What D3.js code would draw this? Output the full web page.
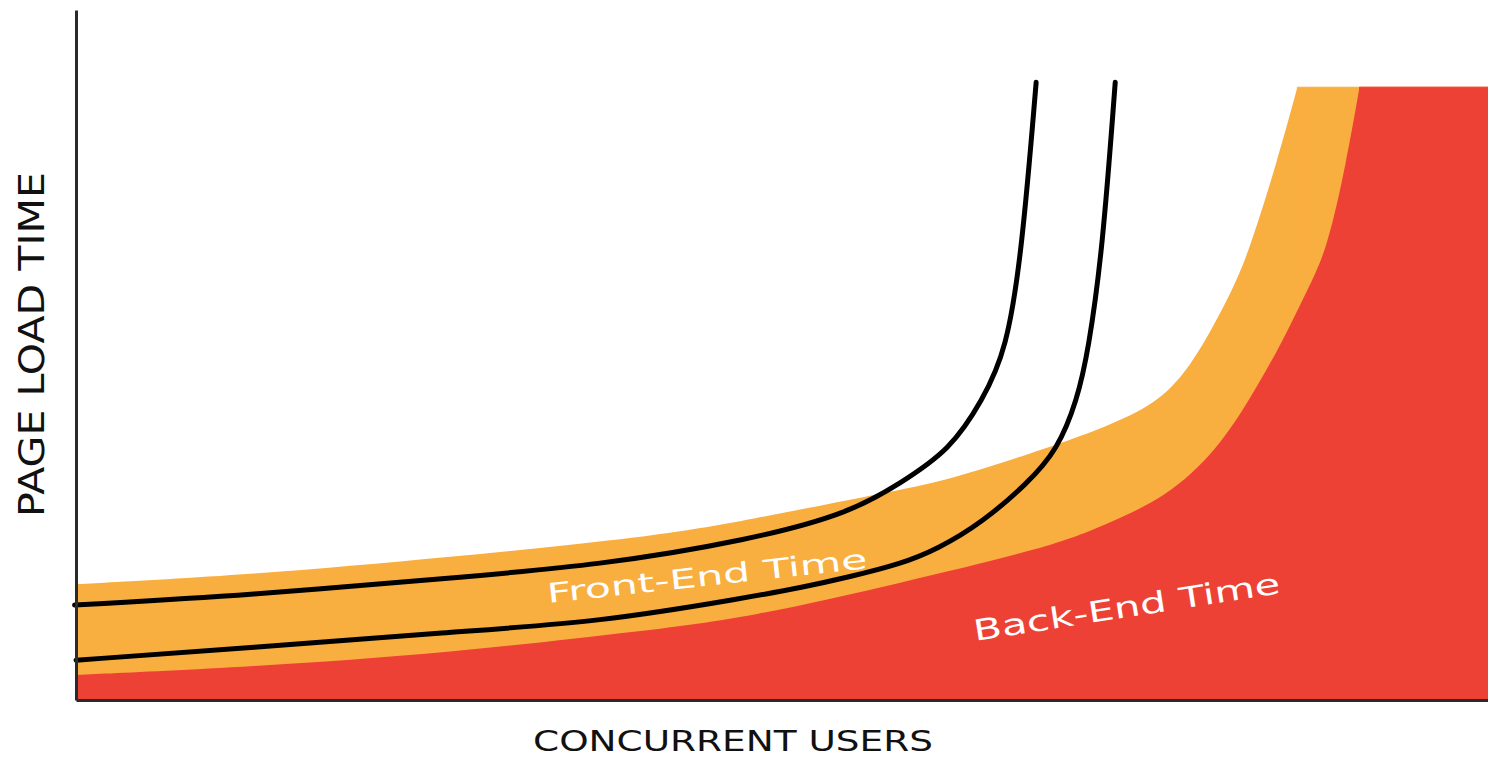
<!DOCTYPE html>
<html>
<head>
<meta charset="utf-8">
<script src="https://cdn.jsdelivr.net/npm/d3@7"></script>
<style>
  body { margin: 0; background: #fff; }
  svg { display: block; }
  .axis path { stroke: #2a2a2a; stroke-width: 3; }
  .axis-label { font-family: "DejaVu Sans", sans-serif; fill: #111; }
  .band-label { font-family: "DejaVu Sans", sans-serif; fill: #fff; }
</style>
</head>
<body>
<script>
// users (0-100) vs page load time (arbitrary units, 100 = flat ceiling)
const users = [0, 12.3, 26.5, 40.7, 47.7, 57.2, 61.9, 69.0, 72.5, 76.1, 78.4, 80.3, 81.9, 83.1, 85.1, 86.5, 100];
const totalTime = [18.9, 20.4, 23.3, 26.6, 29.4, 33.8, 35.9, 41.3, 44.2, 47.8, 52.7, 59.9, 66.9, 73.4, 88.1, 100, 100];

const backUsers = [0, 12.3, 26.5, 40.7, 47.7, 58.4, 69.0, 72.5, 77.3, 80.8, 83.1, 85.5, 87.2, 88.6, 90.0, 90.9, 100];
const backEndTime = [4.1, 5.4, 7.7, 11.4, 13.5, 19.1, 25.0, 28.2, 33.1, 40.8, 48.9, 58.7, 66.9, 73.4, 88.1, 100, 100];

// the two black response curves
const fastUsers = [-0.1, 12.3, 26.5, 37.1, 47.7, 54.8, 58.4, 61.9, 64.2, 65.9, 67.0, 68.0];
const fastTime = [15.5, 17.1, 19.9, 22.0, 26.1, 30.5, 35.4, 40.8, 48.9, 57.1, 73.4, 100.8];

const slowUsers = [0, 12.3, 26.5, 37.1, 47.7, 51.3, 54.8, 58.4, 61.0, 64.2, 67.4, 69.5, 70.9, 71.7, 72.7, 73.6];
const slowTime = [6.5, 8.5, 11.1, 12.7, 16.8, 18.3, 20.1, 22.2, 24.6, 29.0, 35.4, 40.8, 48.9, 57.1, 73.4, 100.8];

const xTitle = "CONCURRENT USERS";
const yTitle = "PAGE LOAD TIME";
const frontLabel = "Front-End Time";
const backLabel = "Back-End Time";

const width = 1488, height = 763;

const svg = d3.select("body").append("svg")
    .attr("width", width)
    .attr("height", height);

const x = d3.scaleLinear().domain([0, 100]).range([76, 1488]);
const y = d3.scaleLinear().domain([0, 112.6]).range([700, 10]);

const zip = (xs, ys) => xs.map((d, i) => [d, ys[i]]);

const area = d3.area()
    .x(d => x(d[0]))
    .y0(y(0))
    .y1(d => y(d[1]));

const line = d3.line()
    .x(d => x(d[0]))
    .y(d => y(d[1]))
    .curve(d3.curveBasis);

// rising part is smoothed, the flat ceiling stays a hard corner
function drawBand(xs, ys, color) {
    const pts = zip(xs, ys);
    const top = ys.indexOf(d3.max(ys));
    svg.append("path")
        .datum(pts.slice(0, top + 1))
        .attr("fill", color)
        .attr("d", area.curve(d3.curveBasis));
    // thin stroke hides the seam between the two pieces
    svg.append("path")
        .datum(pts.slice(top))
        .attr("fill", color)
        .attr("stroke", color)
        .attr("stroke-width", 1)
        .attr("d", area.curve(d3.curveLinear));
}

// orange = total (front + back), red = back-end only
drawBand(users, totalTime, "#f9ae40");
drawBand(backUsers, backEndTime, "#ee4136");

[zip(fastUsers, fastTime), zip(slowUsers, slowTime)].forEach(pts => {
    svg.append("path")
        .datum(pts)
        .attr("fill", "none")
        .attr("stroke", "#000")
        .attr("stroke-width", 5)
        .attr("stroke-linecap", "round")
        .attr("d", line);
});

// axes: just the domain lines, no ticks
svg.append("g").attr("class", "axis")
    .attr("transform", "translate(0," + y(0) + ")")
    .call(d3.axisBottom(x).ticks(0).tickSizeOuter(0));
svg.append("g").attr("class", "axis")
    .attr("transform", "translate(" + x(0) + ",0)")
    .call(d3.axisLeft(y).ticks(0).tickSizeOuter(0));

svg.append("text")
    .attr("class", "axis-label")
    .attr("x", 533).attr("y", 751)
    .attr("font-size", 29)
    .attr("textLength", 400)
    .attr("lengthAdjust", "spacingAndGlyphs")
    .text(xTitle);

svg.append("text")
    .attr("class", "axis-label")
    .attr("transform", "translate(44,517) rotate(-90)")
    .attr("font-size", 36)
    .attr("textLength", 345)
    .attr("lengthAdjust", "spacingAndGlyphs")
    .text(yTitle);

svg.append("text")
    .attr("class", "band-label")
    .attr("transform", "translate(548,603) rotate(-6.2)")
    .attr("font-size", 27)
    .attr("textLength", 322)
    .attr("lengthAdjust", "spacingAndGlyphs")
    .text(frontLabel);

svg.append("text")
    .attr("class", "band-label")
    .attr("transform", "translate(975,641) rotate(-8.9)")
    .attr("font-size", 29)
    .attr("textLength", 310)
    .attr("lengthAdjust", "spacingAndGlyphs")
    .text(backLabel);
</script>
</body>
</html>
